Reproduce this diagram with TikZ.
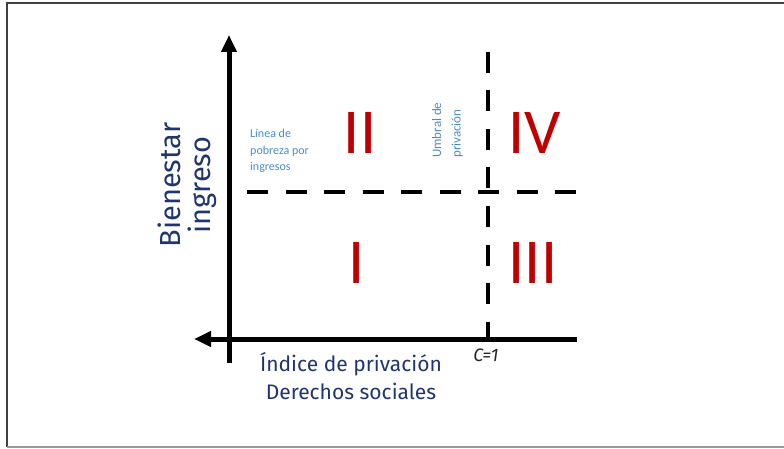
\documentclass[tikz,border=0pt]{standalone}
\usepackage{fontspec}
\setmainfont{Carlito}
\newfontfamily\fira{Fira Sans}
\usetikzlibrary{arrows.meta}
\definecolor{navy}{HTML}{1F3570}
\definecolor{qred}{HTML}{C00000}
\definecolor{lblue}{HTML}{4A8CC6}
\tikzset{
  axis/.style={line width=5pt, -{Triangle[width=15pt,length=17pt]}},
  dashline/.style={line width=4pt, dash pattern=on 21pt off 17.5pt},
  roman/.style={text=qred, font=\fontsize{64}{64}\selectfont, inner sep=0pt},
  axlabel/.style={text=navy, font=\fira\fontsize{29}{30}\selectfont, inner sep=0pt, align=center},
  xlabel/.style={text=navy, font=\fira\fontsize{21}{28}\selectfont, inner sep=0pt, align=center},
  note/.style={text=lblue, font=\fontsize{12}{16.5}\selectfont, inner sep=0pt, align=left}
}
\begin{document}
\begin{tikzpicture}[x=1pt,y=-1pt]
\useasboundingbox (0,0) rectangle (784,449);
\draw[black!75, line width=2pt] (784,3.5) -- (6.5,3.5) -- (6.5,447);
\draw[black!40, line width=1.5pt] (6.5,447) -- (784,447);
% axes
\coordinate (ybot) at (229,363);
\coordinate (ytop) at (229,35);
\coordinate (xright) at (577,339);
\coordinate (xleft) at (194,339);
\coordinate (vtop) at (488,52);
\coordinate (vbot) at (488,339);
\coordinate (hleft) at (247,192);
\coordinate (hright) at (577,192);
\draw[dashline] (vtop) -- (vbot);
\draw[dashline] (hleft) -- (hright);
\draw[axis] (ybot) -- (ytop);
\draw[axis] (xright) -- (xleft);
% roman numerals
\node[roman] (q2) at (360,133) {II};
\node[roman] (q4) at (535,133) {IV};
\node[roman] (q1) at (357,263) {I};
\node[roman] (q3) at (533,263) {III};
% labels
\node[axlabel, rotate=90] (ylab) at (187,185) {Bienestar\\ingreso};
\node[xlabel] (xlab) at (351,376) {Índice de privación\\Derechos sociales};
\node[text=black!85, font=\fira\itshape\fontsize{18}{18}\selectfont, inner sep=0pt] (c1) at (486,355) {C=1};
\node[note, anchor=north west] (pov) at (250,129) {Línea de\\pobreza por\\ingresos};
\node[note, font=\fontsize{13}{19.5}\selectfont, rotate=90, anchor=north west] (umb) at (432,158) {Umbral de\\privación};
\end{tikzpicture}
\end{document}
